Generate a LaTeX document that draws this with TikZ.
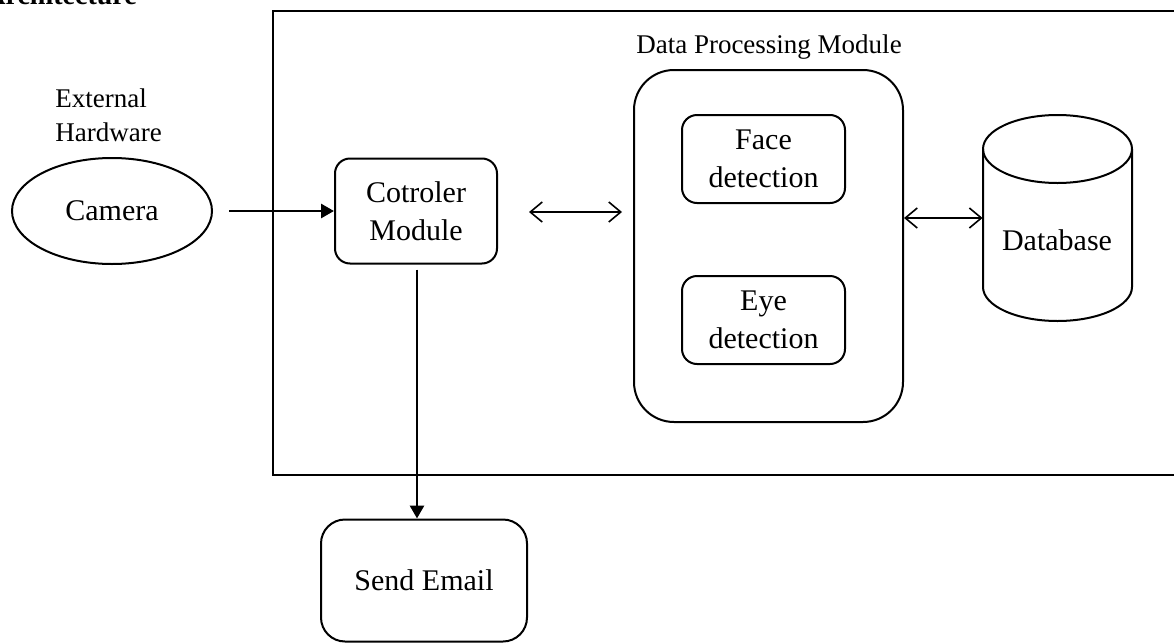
\documentclass[tikz,border=0pt]{standalone}
\usepackage{fontspec}
\setmainfont{Liberation Serif}
\usetikzlibrary{arrows.meta,shapes.geometric}

\begin{document}
\begin{tikzpicture}[x=0.5pt, y=-0.5pt,
  box/.style = {draw, line width=1pt, rounded corners=7.5pt, inner sep=0pt, align=center,
                font=\fontsize{15}{19}\selectfont},
  plain/.style = {inner sep=0pt, font=\fontsize{13.5}{17}\selectfont},
  single/.style = {line width=1.4pt, -{Triangle[length=6.5pt, width=7pt]}},
  both/.style = {line width=0.8pt, {Straight Barb[length=6pt, width=10pt]}-{Straight Barb[length=6pt, width=10pt]}}]
%page
\useasboundingbox (0,0) rectangle (1174,643);
\clip (0,0) rectangle (1174,643);
%title, cut at the top
\node [anchor=base west, inner sep=0pt, font=\fontsize{14}{17}\selectfont\bfseries] (title) at (-15,4) {Architecture};
%system frame
\draw [line width=1pt] (273,11) rectangle (1190,475);
%external hardware
\node [plain, anchor=north west, align=left] (hw) at (55,88) {External\\Hardware};
\node [ellipse, draw, line width=1pt, inner sep=0pt, minimum width=100pt, minimum height=53pt,
       font=\fontsize{15}{19}\selectfont] (cam) at (112,211) {Camera};
%controller
\node [box, minimum width=81pt, minimum height=52.5pt] (ctrl) at (416,211) {Cotroler\\Module};
%data processing module
\node [plain, anchor=base] (dpmlabel) at (769,53) {Data Processing Module};
\node [box, rounded corners=20pt, minimum width=134.5pt, minimum height=176pt] (dpm) at (768.5,246) {};
\node [box, minimum width=81.5pt, minimum height=44pt] (face) at (763.5,159) {Face\\detection};
\node [box, minimum width=81.5pt, minimum height=44pt] (eye) at (763.5,320) {Eye\\detection};
%database
\node [minimum width=74.5pt, minimum height=103pt, inner sep=0pt] (db) at (1057.5,218) {};
\draw [line width=1pt] (983,149) -- (983,287) arc [start angle=180, end angle=0, x radius=74.5, y radius=34] -- (1132,149);
\draw [line width=1pt] (1057.5,149) ellipse [x radius=74.5, y radius=34];
\node [inner sep=0pt, font=\fontsize{15}{19}\selectfont] (dbtext) at (1057,240) {Database};
%send email
\node [box, rounded corners=12pt, minimum width=103pt, minimum height=61pt] (email) at (424,580.5) {Send Email};
%connectors
\draw [single, shorten <=8pt] (cam.east) -- (ctrl.west);
\draw [single, shorten <=2.5pt] (ctrl.south -| 417,0) -- (email.north -| 417,0);
\draw [both, shorten <=15.5pt, shorten >=5.5pt] (ctrl.east) ++(0,1) coordinate (c1) -- (c1 -| dpm.west);
\draw [both] (dpm.east |- db.west) -- (db.west);
\end{tikzpicture}
\end{document}
